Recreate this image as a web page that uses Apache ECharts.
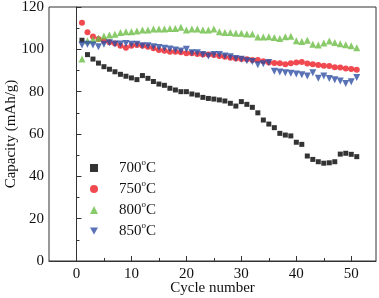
<!DOCTYPE html>
<html><head><meta charset="utf-8">
<script src="https://cdn.jsdelivr.net/npm/echarts@6/dist/echarts.min.js"></script>
<style>html,body{margin:0;padding:0;background:#fff}#c{width:379px;height:298px}</style>
</head><body><div id="c"></div>
<script>
const cycles = Array.from({length: 51}, (_, i) => i + 1);
const xTickLabels = [0, 10, 20, 30, 40, 50];
const xMinorTicks = [5, 15, 25, 35, 45];
const seriesNames = ['700', '750', '800', '850'];
const cap700 = [104.3,97.5,95.4,93.5,91.8,90.6,89.4,88.2,87.3,86.5,85.7,87.6,86.3,84.8,83.6,83.0,81.6,80.8,80.0,80.0,78.9,78.4,77.3,76.8,76.5,76.1,75.6,74.5,73.2,75.3,74.0,72.6,70.0,66.6,64.7,63.0,60.3,59.5,59.1,56.1,55.1,49.6,48.0,46.9,46.2,46.4,46.9,50.5,50.9,50.4,49.3];
const cap750 = [112.6,108.1,106.1,104.9,104.1,103.4,102.8,101.7,100.8,101.7,102.0,101.7,101.2,100.5,99.7,99.3,98.9,98.9,98.6,98.1,98.1,97.8,97.6,97.6,97.3,96.8,96.5,96.0,95.7,95.4,95.3,95.0,95.0,94.4,93.8,93.6,93.4,93.0,93.4,93.8,94.0,93.3,93.0,92.6,92.2,92.1,91.5,91.4,90.9,90.7,90.3];
const cap800 = [95.4,104.1,104.7,105.2,106.3,106.8,107.1,107.9,108.3,108.3,108.7,109.1,109.1,109.6,109.6,109.6,109.9,109.9,110.4,109.1,109.6,109.6,109.1,109.1,109.6,108.3,108.0,108.0,107.6,107.6,107.2,107.2,105.8,105.8,106.0,105.6,105.1,106.0,106.2,104.0,103.7,104.3,102.4,102.1,103.0,103.9,103.2,102.6,102.2,101.7,100.8];
const cap850 = [102.0,102.4,102.0,101.2,102.4,103.1,102.5,102.5,102.8,102.4,102.4,101.7,101.7,101.2,100.9,100.5,100.2,99.7,99.2,100.0,98.4,98.4,97.6,96.8,97.6,97.6,96.8,96.5,95.7,95.3,94.6,94.2,92.7,93.2,93.8,89.7,89.3,88.9,88.7,88.4,88.0,87.4,88.9,86.3,87.4,86.2,85.6,85.0,83.9,84.7,86.7];

const FONT = 'Liberation Serif';
const pair = arr => cycles.map((c, i) => [c, arr[i]]);
const styles = [
  {symbol: 'rect', size: 5, color: '#000000'},
  {symbol: 'circle', size: 6, color: '#ee1c24'},
  {symbol: 'triangle', size: 7, color: '#6cbd45'},
  {symbol: 'path://M0,0 L10,0 L5,9 Z', size: 7, color: '#2f4fa2'}
];
const data = [cap700, cap750, cap800, cap850];

const chart = echarts.init(document.getElementById('c'), null, {renderer: 'canvas'});
chart.setOption({
  animation: false,
  grid: {left: 49, top: 7, right: 3, bottom: 37, show: true, borderColor: '#333', borderWidth: 1,
    outerBoundsMode: 'none', containLabel: false},
  legend: {
    orient: 'vertical', left: 90, top: 158, padding: 0,
    itemWidth: 8, itemHeight: 8, itemGap: 3,
    data: seriesNames.map((n, i) => ({name: n, icon: styles[i].symbol})),
    formatter: n => n + '{s|o}C',
    textStyle: {fontFamily: FONT, fontSize: 15, color: '#111', padding: [0,0,0,16], lineHeight: 16,
      rich: {s: {fontFamily: FONT, fontSize: 9, verticalAlign: 'top', height: 5, color: '#111'}}}
  },
  xAxis: [{
    type: 'value', min: -5, max: 54.5,
    name: 'Cycle number', nameLocation: 'middle', nameGap: 20, nameMoveOverlap: false,
    nameTextStyle: {fontFamily: FONT, fontSize: 15, color: '#111'},
    axisLine: {lineStyle: {color: '#333'}},
    axisTick: {inside: true, length: 5, customValues: xTickLabels, lineStyle: {color: '#333'}},
    axisLabel: {customValues: xTickLabels, fontFamily: FONT, fontSize: 15, color: '#111', margin: 6},
    splitLine: {show: false}
  }, {
    type: 'value', min: -5, max: 54.5, position: 'bottom',
    axisLine: {show: false},
    axisTick: {inside: true, length: 3, customValues: xMinorTicks, lineStyle: {color: '#333'}},
    axisLabel: {show: false}, splitLine: {show: false}
  }],
  yAxis: {
    type: 'value', min: 0, max: 120, interval: 20,
    name: 'Capacity (mAh/g)', nameLocation: 'middle', nameGap: 30, nameMoveOverlap: false,
    nameTextStyle: {fontFamily: FONT, fontSize: 15, color: '#111'},
    axisLine: {show: true, lineStyle: {color: '#333'}},
    axisTick: {inside: true, length: 5, lineStyle: {color: '#333'}},
    minorTick: {show: true, splitNumber: 2, length: 3, lineStyle: {color: '#333'}},
    axisLabel: {fontFamily: FONT, fontSize: 15, color: '#111', margin: 5},
    splitLine: {show: false}
  },
  series: seriesNames.map((n, i) => ({
    name: n, type: 'scatter', xAxisIndex: 0,
    symbol: styles[i].symbol, symbolSize: styles[i].size,
    itemStyle: {color: styles[i].color},
    data: pair(data[i])
  }))
});
</script></body></html>
